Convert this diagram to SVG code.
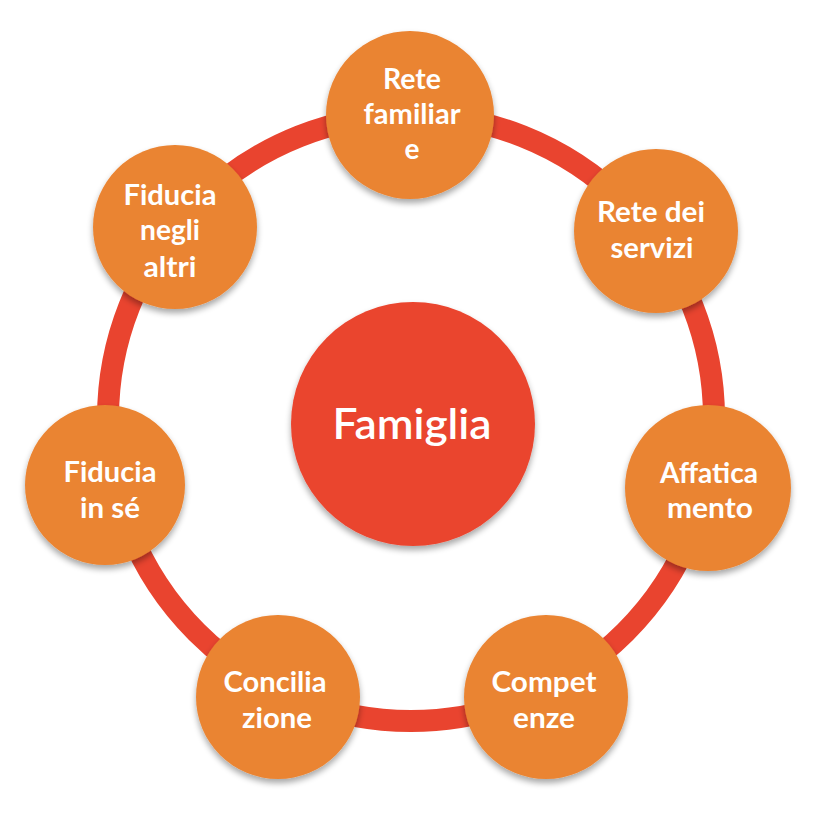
<svg xmlns="http://www.w3.org/2000/svg" width="822" height="816" viewBox="0 0 822 816">
<defs>
<filter id="sh" x="-20%" y="-20%" width="140%" height="150%">
<feGaussianBlur in="SourceAlpha" stdDeviation="3"/>
<feOffset dx="0" dy="4" result="b"/>
<feComponentTransfer><feFuncA type="linear" slope="0.35"/></feComponentTransfer>
<feMerge><feMergeNode/><feMergeNode in="SourceGraphic"/></feMerge>
</filter>
<style>
.node{fill:#EA8432;filter:url(#sh)}
.hub{fill:#EA452F;filter:url(#sh)}
.t{font-family:Lato,"Open Sans","Liberation Sans",sans-serif;font-weight:bold;font-size:28px;fill:#FFFFFF;text-anchor:middle}
.tc{font-family:Lato,"Open Sans","Liberation Sans",sans-serif;font-weight:600;font-size:42px;fill:#FFFFFF;text-anchor:middle}
</style>
</defs>
<rect width="822" height="816" fill="#FFFFFF"/>
<g id="connectors">
<circle cx="411" cy="418" r="303" fill="none" stroke="#E9442F" stroke-width="22"/>
</g>
<g id="famiglia">
<circle class="hub" cx="413" cy="424" r="122"/>
<text class="tc" x="412" y="439" textLength="159" lengthAdjust="spacingAndGlyphs">Famiglia</text>
</g>
<g id="rete-familiare">
<circle class="node" cx="410" cy="115" r="84"/>
<text class="t" x="412" y="89" textLength="58" lengthAdjust="spacingAndGlyphs">Rete</text>
<text class="t" x="412" y="124" textLength="97" lengthAdjust="spacingAndGlyphs">familiar</text>
<text class="t" x="412" y="159">e</text>
</g>
<g id="rete-servizi">
<circle class="node" cx="656" cy="231" r="82"/>
<text class="t" x="651" y="222" textLength="108" lengthAdjust="spacingAndGlyphs">Rete dei</text>
<text class="t" x="652" y="258" textLength="83" lengthAdjust="spacingAndGlyphs">servizi</text>
</g>
<g id="affaticamento">
<circle class="node" cx="708" cy="488" r="83"/>
<text class="t" x="709" y="483" textLength="98" lengthAdjust="spacingAndGlyphs">Affatica</text>
<text class="t" x="710" y="518" textLength="86" lengthAdjust="spacingAndGlyphs">mento</text>
</g>
<g id="competenze">
<circle class="node" cx="546" cy="697" r="82"/>
<text class="t" x="544" y="692" textLength="105" lengthAdjust="spacingAndGlyphs">Compet</text>
<text class="t" x="544" y="728" textLength="62" lengthAdjust="spacingAndGlyphs">enze</text>
</g>
<g id="conciliazione">
<circle class="node" cx="278" cy="697" r="82"/>
<text class="t" x="275" y="692" textLength="103" lengthAdjust="spacingAndGlyphs">Concilia</text>
<text class="t" x="277" y="728" textLength="70" lengthAdjust="spacingAndGlyphs">zione</text>
</g>
<g id="fiducia-in-se">
<circle class="node" cx="105" cy="485" r="80"/>
<text class="t" x="110" y="482" textLength="93" lengthAdjust="spacingAndGlyphs">Fiducia</text>
<text class="t" x="110" y="518" textLength="60" lengthAdjust="spacingAndGlyphs">in sé</text>
</g>
<g id="fiducia-negli-altri">
<circle class="node" cx="175" cy="227" r="82"/>
<text class="t" x="170" y="205" textLength="93" lengthAdjust="spacingAndGlyphs">Fiducia</text>
<text class="t" x="170" y="240" textLength="60" lengthAdjust="spacingAndGlyphs">negli</text>
<text class="t" x="170" y="277" textLength="53" lengthAdjust="spacingAndGlyphs">altri</text>
</g>
</svg>
